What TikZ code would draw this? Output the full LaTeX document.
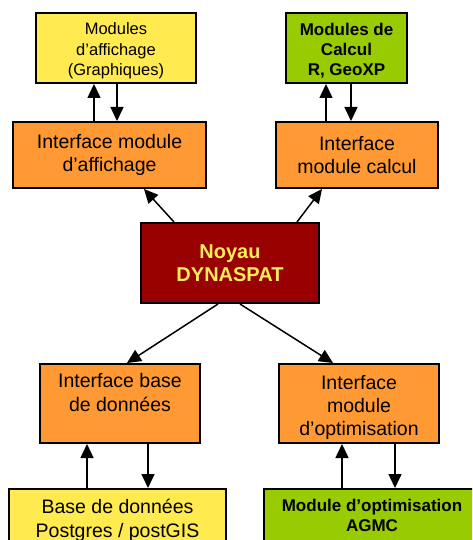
\documentclass[tikz,border=0pt]{standalone}
\usepackage{fontspec}
\setmainfont{Liberation Sans}
\usetikzlibrary{arrows.meta}
\definecolor{cyellow}{RGB}{255,235,80}
\definecolor{corange}{RGB}{255,153,51}
\definecolor{cgreen}{RGB}{153,204,0}
\definecolor{cred}{RGB}{153,0,0}
\definecolor{ctext}{RGB}{255,236,90}
\begin{document}
\begin{tikzpicture}[x=1pt,y=-1pt,
  box/.style={draw=black,line width=2pt,rectangle,align=center,inner sep=0pt,
    font=\fontsize{19.5}{23.3}\selectfont},
  ybox/.style={box,fill=cyellow},
  obox/.style={box,fill=corange},
  gbox/.style={box,fill=cgreen,font=\fontsize{17}{20}\selectfont\bfseries},
  rbox/.style={box,fill=cred,text=ctext,font=\fontsize{20}{23.3}\selectfont\bfseries},
  arr/.style={line width=1.5pt,-{Triangle[length=14pt,width=13pt]}}]
\useasboundingbox (0,0) rectangle (472,540);
\clip (0,0) rectangle (472,540);
% top row
\node[ybox,minimum width=160pt,minimum height=70pt,font=\fontsize{16.5}{20.7}\selectfont] (ma) at (116,48) {\rule{0pt}{18pt}Modules\\d’affichage\\(Graphiques)};
\node[gbox,minimum width=121pt,minimum height=70pt] (mc) at (346.5,48) {\rule{0pt}{17pt}Modules de\\Calcul\\R, GeoXP};
% interfaces top
\node[obox,minimum width=193pt,minimum height=66pt] (ia) at (109.5,155) {Interface module\\d’affichage};
\node[obox,minimum width=162pt,minimum height=66pt] (ic) at (357,155) {Interface\\module calcul};
% kernel
\node[rbox,minimum width=178pt,minimum height=80pt] (ny) at (230,263) {Noyau\\DYNASPAT};
% interfaces bottom
\node[obox,minimum width=160pt,minimum height=79pt] (ib) at (120,403.5) {Interface base\\de données\rule[-22pt]{0pt}{0pt}};
\node[obox,minimum width=160pt,minimum height=79pt] (io) at (359,403.5) {\rule{0pt}{22pt}Interface\\module\\d’optimisation};
% bottom row (clipped)
\node[ybox,minimum width=217pt,anchor=north,inner ysep=10pt,font=\fontsize{19.5}{24}\selectfont] (bd) at (117.5,488) {Base de données\\Postgres / postGIS\rule[-30pt]{0pt}{0pt}};
\node[gbox,minimum width=216pt,anchor=north,inner ysep=10pt] (mo) at (372,488) {Module d’optimisation\\AGMC\rule[-30pt]{0pt}{0pt}};
% vertical arrows top
\draw[arr] ([xshift=-15.5pt]ia.north) -- ([xshift=-22pt]ma.south);
\draw[arr] ([xshift=1pt]ma.south) -- ([xshift=7.5pt]ia.north);
\draw[arr] ([xshift=-31pt]ic.north) -- ([xshift=-20.5pt]mc.south);
\draw[arr] ([xshift=4.5pt]mc.south) -- ([xshift=-6pt]ic.north);
% diagonal arrows
\draw[arr] ([xshift=34pt]ny.north west) -- ([xshift=-63pt]ia.south east);
\draw[arr] ([xshift=-23pt]ny.north east) -- ([xshift=-35pt]ic.south);
\draw[arr] ([xshift=-12pt]ny.south) -- ([xshift=7pt]ib.north);
\draw[arr] ([xshift=10pt]ny.south) -- ([xshift=-26pt]io.north);
% vertical arrows bottom
\draw[arr] ([xshift=-30.5pt]bd.north) -- ([xshift=-33pt]ib.south);
\draw[arr] ([xshift=28pt]ib.south) -- ([xshift=30.5pt]bd.north);
\draw[arr] ([xshift=-30pt]mo.north) -- ([xshift=-17pt]io.south);
\draw[arr] ([xshift=36pt]io.south) -- ([xshift=23pt]mo.north);
\end{tikzpicture}
\end{document}
